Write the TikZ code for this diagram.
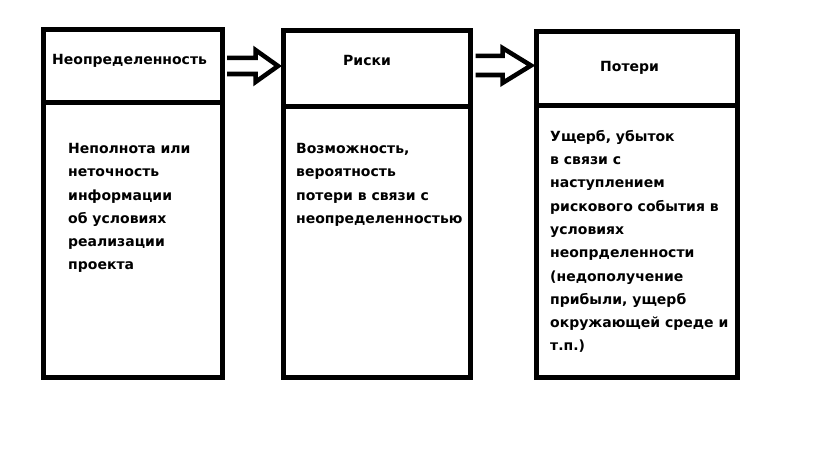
\documentclass[tikz,border=0pt]{standalone}
\usepackage{fontspec}
\setmainfont{DejaVu Sans}
\usetikzlibrary{calc}
\begin{document}
\begin{tikzpicture}[x=1pt,y=-1pt,
  box/.style={draw,line width=5pt,inner sep=0pt,minimum width=#1},
  lbl/.style={inner sep=0pt,font=\fontsize{14}{23.3}\selectfont\bfseries,align=left},
  blockarrow/.style={draw,line width=4.5pt,line join=miter}]
\useasboundingbox[fill=white] (0,0) rectangle (819,460);
% column 1
\node[box=178.5pt,minimum height=72.5pt] (h1) at (132.75,65.75) {};
\node[box=178.5pt,minimum height=275pt] (b1) at (132.75,239.5) {};
% column 2
\node[box=187.5pt,minimum height=75.5pt] (h2) at (376.75,68.25) {};
\node[box=187.5pt,minimum height=271.5pt] (b2) at (376.75,241.75) {};
% column 3
\node[box=201.5pt,minimum height=74pt] (h3) at (636.75,68.5) {};
\node[box=201.5pt,minimum height=272pt] (b3) at (636.75,241.5) {};
% headers
\node[lbl,anchor=base west] (t1) at (52,64) {Неопределенность};
\node[lbl,anchor=base west] (t2) at (343,66) {Риски};
\node[lbl,anchor=base west] (t3) at (600,71) {Потери};
% bodies
\node[lbl,anchor=north west] (d1) at (68,143) {Неполнота или\\неточность\\информации\\об условиях\\реализации\\проекта};
\node[lbl,anchor=north west] (d2) at (296,143) {Возможность,\\вероятность\\потери в связи с\\неопределенностью};
\node[lbl,anchor=north west] (d3) at (550,130) {Ущерб, убыток\\в связи с\\наступлением\\рискового события в\\условиях\\неопрделенности\\(недополучение\\прибыли, ущерб\\окружающей среде и\\т.п.)};
% block arrows
\draw[blockarrow] ($(h1.east)+(2.5,-7.75)$) -- ($(h1.east)+(31,-7.75)$) -- ($(h1.east)+(31,-15.75)$)
  -- ($(h2.west)+(-2.5,-2.25)$) -- ($(h1.east)+(31,16.25)$) -- ($(h1.east)+(31,8.25)$) -- ($(h1.east)+(2.5,8.25)$);
\draw[blockarrow] ($(h2.east)+(2.5,-12.25)$) -- ($(h2.east)+(29.5,-12.25)$) -- ($(h2.east)+(29.5,-20.25)$)
  -- ($(h3.west)+(-2.5,-3)$) -- ($(h2.east)+(29.5,14.75)$) -- ($(h2.east)+(29.5,6.75)$) -- ($(h2.east)+(2.5,6.75)$);
\end{tikzpicture}
\end{document}
